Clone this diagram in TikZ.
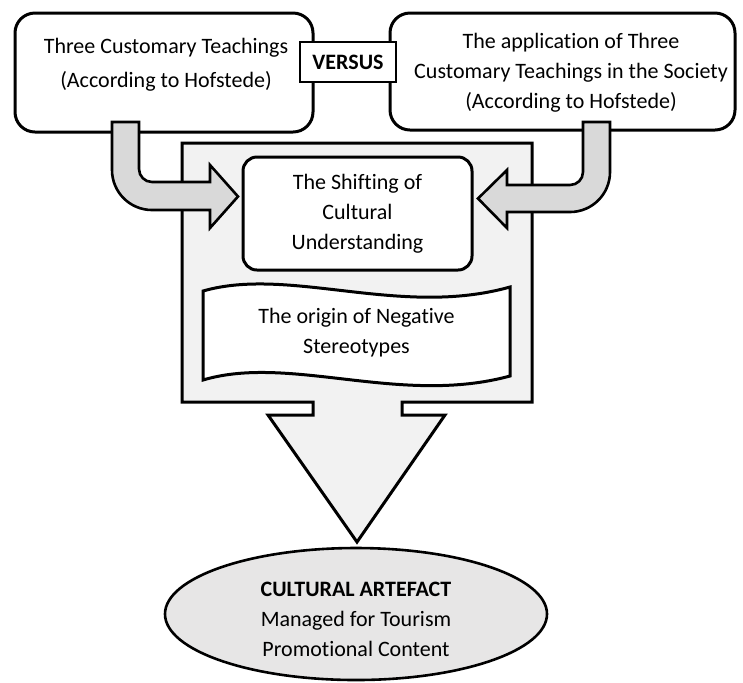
\documentclass[tikz,border=0pt]{standalone}
\usepackage{fontspec}
\setmainfont{Carlito}[Ligatures = NoCommon]
\usepackage{xcolor}
\usepackage{tikz}
\usetikzlibrary{shapes.geometric}
\usetikzlibrary{shapes}

\definecolor{calloutgray}{HTML}{F2F2F2}
\definecolor{arrowgray}{HTML}{D9D9D9}
\definecolor{ovalgray}{HTML}{E7E6E6}

\tikzset{
  roundbox/.style = {draw, line width = 1.5pt, fill = white, inner sep = 0pt},
  txt/.style = {align = center, font = \fontsize{11pt}{15pt}\selectfont, inner sep = 0pt},
  versusbox/.style = {draw, line width = 0.6pt, fill = white, inner sep = 0pt,
    minimum width = 48pt, minimum height = 20pt, font = \fontsize{11pt}{15pt}\selectfont\bfseries},
  callout/.style = {draw, line width = 1.5pt, fill = calloutgray},
  bentarrow/.style = {draw, line width = 1.3pt, fill = arrowgray},
  wavebox/.style = {draw, line width = 1.5pt, fill = white},
  artefact/.style = {draw, ellipse, line width = 1.3pt, fill = ovalgray, inner sep = 0pt,
    minimum width = 191pt, minimum height = 66pt}
}

\begin{document}
\begin{tikzpicture}[x = 0.5pt, y = -0.5pt]
\useasboundingbox (0, 0) rectangle (743, 682);

% the two teachings
\node [roundbox, rounded corners = 10pt, minimum width = 149pt, minimum height = 59.5pt]
    (customs) at (164, 72.5) {};
\node [txt] (customstext) at (166, 65)
    {Three Customary Teachings\\[2pt](According to Hofstede)};
\node [roundbox, rounded corners = 10pt, minimum width = 172.5pt, minimum height = 58.5pt]
    (society) at (562.5, 71.5) {};
\node [txt] (societytext) at (571, 73)
    {The application of Three\\Customary Teachings in the Society\\(According to Hofstede)};
\node [versusbox] (versus) at (348, 62) {VERSUS};

% callout with the down arrow
\draw [callout] (182, 143) -- (532, 143) -- (532, 402) -- (402, 402) -- (402, 415)
    -- (445, 415) -- (357, 542) -- (268, 415) -- (313, 415) -- (313, 402)
    -- (182, 402) -- cycle;

% bent arrows
\draw [bentarrow] (112, 122) -- (139, 122) -- (139, 169)
    .. controls (139, 176.2) and (144.8, 182) .. (152, 182)
    -- (210, 182) -- (210, 165) -- (238, 196.5) -- (210, 228) -- (210, 210)
    -- (152, 210) .. controls (129.9, 210) and (112, 192.1) .. (112, 170) -- cycle;
\draw [bentarrow] (610, 122) -- (583, 122) -- (583, 172)
    .. controls (583, 179.2) and (577.2, 185) .. (570, 185)
    -- (507, 185) -- (507, 170) -- (478, 198.5) -- (507, 228) -- (507, 212)
    -- (570, 212) .. controls (592.1, 212) and (610, 194.1) .. (610, 172) -- cycle;

% inside the callout
\node [roundbox, rounded corners = 7pt, minimum width = 114.5pt, minimum height = 56.5pt,
    txt] (shifting) at (357.5, 213.5)
    {The Shifting of\\Cultural\\Understanding};
\draw [wavebox] (203, 291) .. controls (290, 266) and (400, 318) .. (510, 287)
    -- (510, 376) .. controls (400, 406) and (290, 354) .. (203, 380) -- cycle;
\node [txt] (origin) at (356.5, 333)
    {The origin of Negative\\Stereotypes};

% result
\node [artefact] (artefact) at (356, 614) {};
\node [txt] (artefacttext) at (356, 619)
    {\textbf{CULTURAL ARTEFACT}\\Managed for Tourism\\Promotional Content};
\end{tikzpicture}
\end{document}
